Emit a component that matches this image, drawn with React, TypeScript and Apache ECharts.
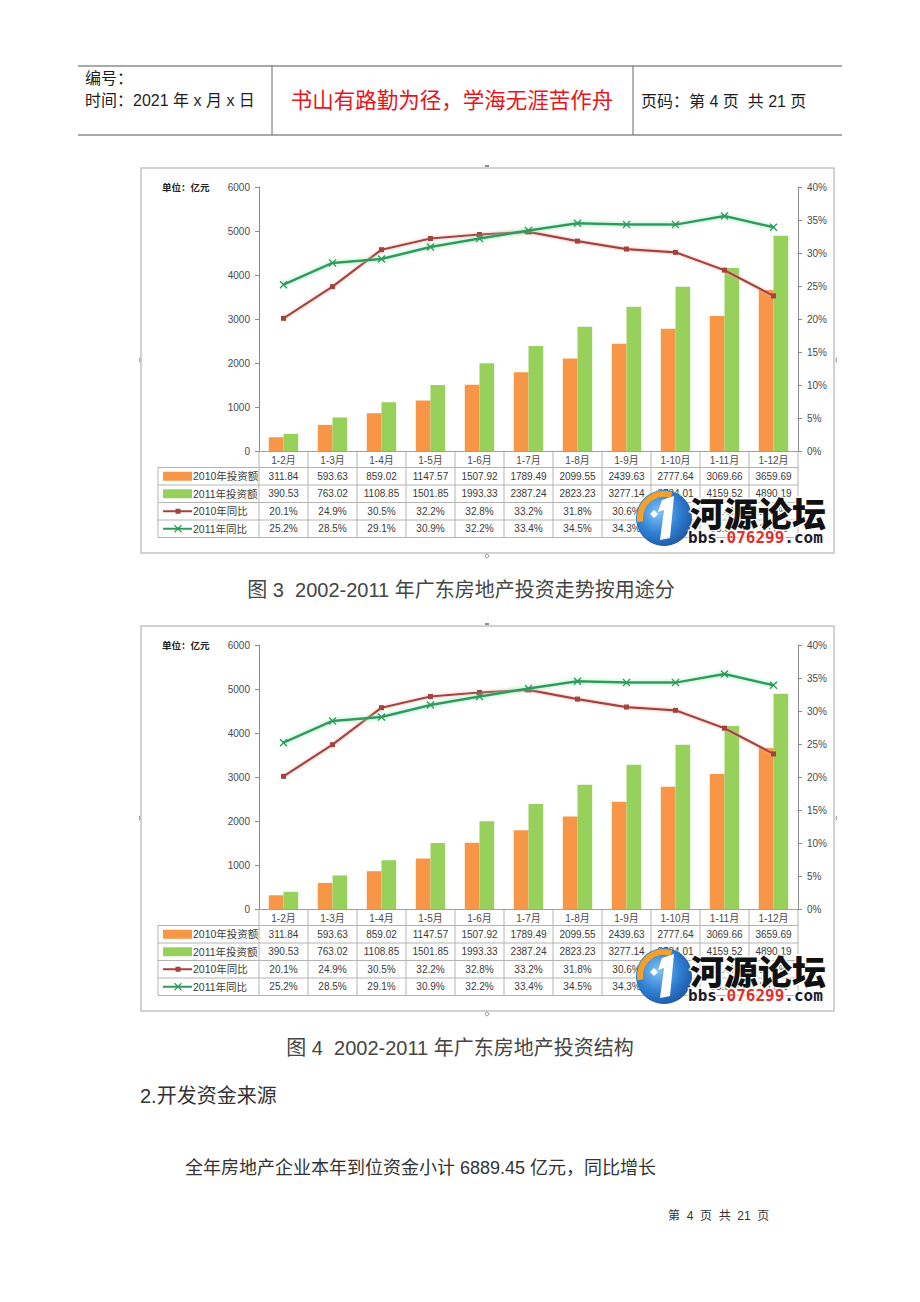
import React, { useEffect, useRef } from "react";
import * as echarts from "echarts";

const categories = ["1-2月", "1-3月", "1-4月", "1-5月", "1-6月", "1-7月", "1-8月", "1-9月", "1-10月", "1-11月", "1-12月"];
const invest2010 = [311.84, 593.63, 859.02, 1147.57, 1507.92, 1789.49, 2099.55, 2439.63, 2777.64, 3069.66, 3659.69];
const invest2011 = [390.53, 763.02, 1108.85, 1501.85, 1993.33, 2387.24, 2823.23, 3277.14, 3734.01, 4159.52, 4890.19];
const yoy2010 = [20.1, 24.9, 30.5, 32.2, 32.8, 33.2, 31.8, 30.6, 30.1, 27.4, 23.5];
const yoy2011 = [25.2, 28.5, 29.1, 30.9, 32.2, 33.4, 34.5, 34.3, 34.3, 35.6, 33.9];
const seriesNames = ["2010年投资额", "2011年投资额", "2010年同比", "2011年同比"];
const captions = ["图 3  2002-2011 年广东房地产投资走势按用途分", "图 4  2002-2011 年广东房地产投资结构"];

const CJK = "'Liberation Sans', 'Noto Sans CJK SC', sans-serif";
const ORANGE = "#f79646";
const GREEN = "#98d05c";
const RED = "#a4423d";
const DGREEN = "#2f9b5c";
const X_SYMBOL = "path://M0,1.2L1.2,0L5,3.8L8.8,0L10,1.2L6.2,5L10,8.8L8.8,10L5,6.2L1.2,10L0,8.8L3.8,5Z";

const GRID_LEFT = 259;
const GRID_W = 539;
const GRID_TOP = 187;
const GRID_H = 264;
const SHIFT = 458;

function buildTable(c: number): any[] {
  const dy = c * SHIFT;
  const els: any[] = [];
  const colW = GRID_W / categories.length;
  const baseY = GRID_TOP + GRID_H + dy;
  const rowTops = [baseY, baseY + 16.5, baseY + 34, baseY + 51.5, baseY + 69, baseY + 86.5];
  const lineStyle = { stroke: "#b4b4b4", lineWidth: 1 };
  for (let r = 1; r < rowTops.length; r++) {
    els.push({ type: "line", shape: { x1: 158, y1: rowTops[r], x2: GRID_LEFT + GRID_W, y2: rowTops[r] }, style: lineStyle, silent: true });
  }
  els.push({ type: "line", shape: { x1: 158, y1: rowTops[1], x2: 158, y2: rowTops[5] }, style: lineStyle, silent: true });
  for (let i = 0; i <= categories.length; i++) {
    const x = GRID_LEFT + i * colW;
    els.push({ type: "line", shape: { x1: x, y1: rowTops[0], x2: x, y2: rowTops[5] }, style: lineStyle, silent: true });
  }
  const rows = [
    invest2010.map((v) => v.toFixed(2)),
    invest2011.map((v) => v.toFixed(2)),
    yoy2010.map((v) => v.toFixed(1) + "%"),
    yoy2011.map((v) => v.toFixed(1) + "%"),
  ];
  rows.forEach((row, r) => {
    const cy = (rowTops[r + 1] + rowTops[r + 2]) / 2;
    row.forEach((txt, i) => {
      els.push({
        type: "text",
        x: GRID_LEFT + (i + 0.5) * colW,
        y: cy,
        style: { text: txt, fill: "#3a3a3a", fontSize: 10, fontFamily: CJK, align: "center", verticalAlign: "middle" },
        silent: true,
      });
    });
    els.push({
      type: "text",
      x: 193,
      y: cy,
      style: { text: seriesNames[r], fill: "#3a3a3a", fontSize: 10.5, fontFamily: CJK, align: "left", verticalAlign: "middle" },
      silent: true,
    });
    if (r < 2) {
      els.push({ type: "rect", shape: { x: 163, y: cy - 4.5, width: 29, height: 9 }, style: { fill: r === 0 ? ORANGE : GREEN }, silent: true });
    } else {
      const col = r === 2 ? RED : DGREEN;
      els.push({ type: "line", shape: { x1: 163, y1: cy, x2: 192, y2: cy }, style: { stroke: col, lineWidth: 2 }, silent: true });
      if (r === 2) {
        els.push({ type: "rect", shape: { x: 175.5, y: cy - 2.5, width: 5, height: 5 }, style: { fill: RED }, silent: true });
      } else {
        els.push({ type: "line", shape: { x1: 174.5, y1: cy - 3.5, x2: 181.5, y2: cy + 3.5 }, style: { stroke: DGREEN, lineWidth: 1.3 }, silent: true });
        els.push({ type: "line", shape: { x1: 174.5, y1: cy + 3.5, x2: 181.5, y2: cy - 3.5 }, style: { stroke: DGREEN, lineWidth: 1.3 }, silent: true });
      }
    }
  });
  els.push({
    type: "text",
    x: 162,
    y: GRID_TOP + dy,
    style: { text: "单位：亿元", fill: "#222", fontSize: 9.5, fontWeight: "bold", fontFamily: CJK, verticalAlign: "middle" },
    silent: true,
  });
  els.push({
    type: "rect",
    shape: { x: 141, y: 168 + dy, width: 693, height: 385 },
    style: { fill: "none", stroke: "#c4c4c4", lineWidth: 1.5 },
    silent: true,
  });
  els.push({ type: "line", shape: { x1: 485, y1: 166 + dy, x2: 489, y2: 166 + dy }, style: { stroke: "#666", lineWidth: 1.5 }, silent: true });
  els.push({ type: "circle", shape: { cx: 487, cy: 556 + dy, r: 1.8 }, style: { fill: "none", stroke: "#777", lineWidth: 0.8 }, silent: true });
  els.push({ type: "arc", shape: { cx: 136, cy: 360 + dy, r: 4, startAngle: -0.6, endAngle: 0.6 }, style: { stroke: "#777", lineWidth: 0.8, fill: "none" }, silent: true });
  els.push({ type: "arc", shape: { cx: 840, cy: 360 + dy, r: 4, startAngle: Math.PI - 0.6, endAngle: Math.PI + 0.6 }, style: { stroke: "#777", lineWidth: 0.8, fill: "none" }, silent: true });
  const wx = 664;
  const wy = 518 + dy;
  els.push({
    type: "group",
    z: 50,
    children: [
      {
        type: "circle",
        shape: { cx: wx, cy: wy, r: 28 },
        style: {
          fill: new echarts.graphic.RadialGradient(0.4, 0.4, 0.7, [
            { offset: 0, color: "#7fc3f5" },
            { offset: 0.55, color: "#2f7fd2" },
            { offset: 1, color: "#1d4f9c" },
          ]),
        },
      },
      {
        type: "arc",
        shape: { cx: wx, cy: wy, r: 24, startAngle: Math.PI * 0.95, endAngle: Math.PI * 1.6 },
        style: { stroke: "#f4a12a", lineWidth: 6, fill: "none" },
      },
      {
        type: "polygon",
        shape: { points: [[wx - 2, wy - 18], [wx + 10, wy - 22], [wx + 6, wy + 20], [wx - 4, wy + 22], [wx, wy - 8], [wx - 6, wy - 6]] },
        style: { fill: "#ffffff" },
      },
      {
        type: "polygon",
        shape: { points: [[wx - 14, wy - 4], [wx - 10, wy - 8], [wx - 6, wy - 4], [wx - 10, wy]] },
        style: { fill: "#ffffff" },
      },
      {
        type: "text",
        x: 690,
        y: wy - 6,
        style: {
          text: "河源论坛",
          fill: "#111",
          fontSize: 34,
          fontWeight: 900,
          fontFamily: "'Noto Sans CJK SC', sans-serif",
          verticalAlign: "middle",
          stroke: "rgba(255,255,255,0.9)",
          lineWidth: 3,
        },
      },
      {
        type: "text",
        x: 688,
        y: wy + 19,
        style: {
          text: "{a|bbs.}{b|076299}{a|.com}",
          verticalAlign: "middle",
          stroke: "rgba(255,255,255,0.9)",
          lineWidth: 3,
          rich: {
            a: { fill: "#1a1a2e", fontSize: 16, fontWeight: "bold", fontFamily: "'DejaVu Sans Mono', monospace" },
            b: { fill: "#e2302c", fontSize: 16, fontWeight: "bold", fontFamily: "'DejaVu Sans Mono', monospace" },
          },
        },
      },
    ],
  });
  return els;
}

function buildPage(): any[] {
  const els: any[] = [];
  const ls = { stroke: "#555", lineWidth: 1.2 };
  els.push({ type: "line", shape: { x1: 78, y1: 66, x2: 842, y2: 66 }, style: ls, silent: true });
  els.push({ type: "line", shape: { x1: 78, y1: 135, x2: 842, y2: 135 }, style: ls, silent: true });
  els.push({ type: "line", shape: { x1: 272, y1: 66, x2: 272, y2: 135 }, style: { stroke: "#666", lineWidth: 1 }, silent: true });
  els.push({ type: "line", shape: { x1: 633, y1: 66, x2: 633, y2: 135 }, style: { stroke: "#666", lineWidth: 1 }, silent: true });
  const t = (text: string, x: number, y: number, size: number, extra: any = {}) =>
    els.push({
      type: "text",
      x,
      y,
      style: { text, fill: "#1e1e1e", fontSize: size, fontFamily: CJK, verticalAlign: "middle", ...extra },
      silent: true,
    });
  t("编号：", 85, 78, 16);
  t("时间：2021 年 x 月 x 日", 85, 100, 16);
  t("书山有路勤为径，学海无涯苦作舟", 452, 101, 21.5, { fill: "#e8141b", align: "center" });
  t("页码：第 4 页  共 21 页", 641, 101, 16);
  t(captions[0], 461, 590, 20, { fill: "#454545", align: "center" });
  t(captions[1], 460, 1048, 20, { fill: "#454545", align: "center" });
  t("2.开发资金来源", 140, 1096, 20, { fill: "#333" });
  t("全年房地产企业本年到位资金小计 6889.45 亿元，同比增长", 185, 1168, 18, { fill: "#333" });
  t("第  4  页  共  21  页", 668, 1216, 12, { fill: "#333" });
  return els;
}

export default function App() {
  const ref = useRef<HTMLDivElement>(null);
  useEffect(() => {
    if (!ref.current) return;
    const chart = echarts.init(ref.current, undefined, { renderer: "svg" });
    const grids: any[] = [];
    const xAxes: any[] = [];
    const yAxes: any[] = [];
    const series: any[] = [];
    const axisLabelStyle = { fontSize: 10, color: "#4a4a4a", fontFamily: CJK };
    for (let c = 0; c < 2; c++) {
      grids.push({ left: GRID_LEFT, width: GRID_W, top: GRID_TOP + c * SHIFT, height: GRID_H });
      xAxes.push({
        type: "category",
        gridIndex: c,
        data: categories,
        axisLine: { show: true, lineStyle: { color: "#a0a0a0", width: 1 } },
        axisTick: { show: false },
        axisLabel: { ...axisLabelStyle, margin: 4 },
      });
      yAxes.push({
        type: "value",
        gridIndex: c,
        position: "left",
        min: 0,
        max: 6000,
        interval: 1000,
        axisLine: { show: true, lineStyle: { color: "#8c8c8c" } },
        axisTick: { show: true, length: 4, lineStyle: { color: "#8c8c8c" } },
        axisLabel: { ...axisLabelStyle, margin: 9, formatter: (v: number) => String(v) },
        splitLine: { show: false },
      });
      yAxes.push({
        type: "value",
        gridIndex: c,
        position: "right",
        min: 0,
        max: 40,
        interval: 5,
        axisLine: { show: true, lineStyle: { color: "#8c8c8c" } },
        axisTick: { show: true, length: 4, lineStyle: { color: "#8c8c8c" } },
        axisLabel: { ...axisLabelStyle, margin: 9, formatter: "{value}%" },
        splitLine: { show: false },
      });
      series.push({
        name: seriesNames[0],
        type: "bar",
        xAxisIndex: c,
        yAxisIndex: 2 * c,
        data: invest2010,
        barGap: "0%",
        barCategoryGap: "40%",
        itemStyle: { color: ORANGE },
      });
      series.push({
        name: seriesNames[1],
        type: "bar",
        xAxisIndex: c,
        yAxisIndex: 2 * c,
        data: invest2011,
        barGap: "0%",
        barCategoryGap: "40%",
        itemStyle: { color: GREEN },
      });
      series.push({
        name: seriesNames[2],
        type: "line",
        xAxisIndex: c,
        yAxisIndex: 2 * c + 1,
        data: yoy2010,
        symbol: "rect",
        symbolSize: 5,
        itemStyle: { color: RED },
        lineStyle: { color: RED, width: 2.2, shadowColor: "rgba(240,170,165,0.9)", shadowBlur: 3 },
        z: 5,
      });
      series.push({
        name: seriesNames[3],
        type: "line",
        xAxisIndex: c,
        yAxisIndex: 2 * c + 1,
        data: yoy2011,
        symbol: X_SYMBOL,
        symbolSize: 8,
        itemStyle: { color: DGREEN },
        lineStyle: { color: DGREEN, width: 2.5, shadowColor: "rgba(150,235,190,0.95)", shadowBlur: 4 },
        z: 6,
      });
    }
    chart.setOption({
      animation: false,
      backgroundColor: "#ffffff",
      grid: grids,
      xAxis: xAxes,
      yAxis: yAxes,
      series,
      graphic: [...buildPage(), ...buildTable(0), ...buildTable(1)],
    });
    return () => chart.dispose();
  }, []);
  return <div ref={ref} style={{ position: "absolute", left: 0, top: 0, width: 920, height: 1302 }} />;
}
